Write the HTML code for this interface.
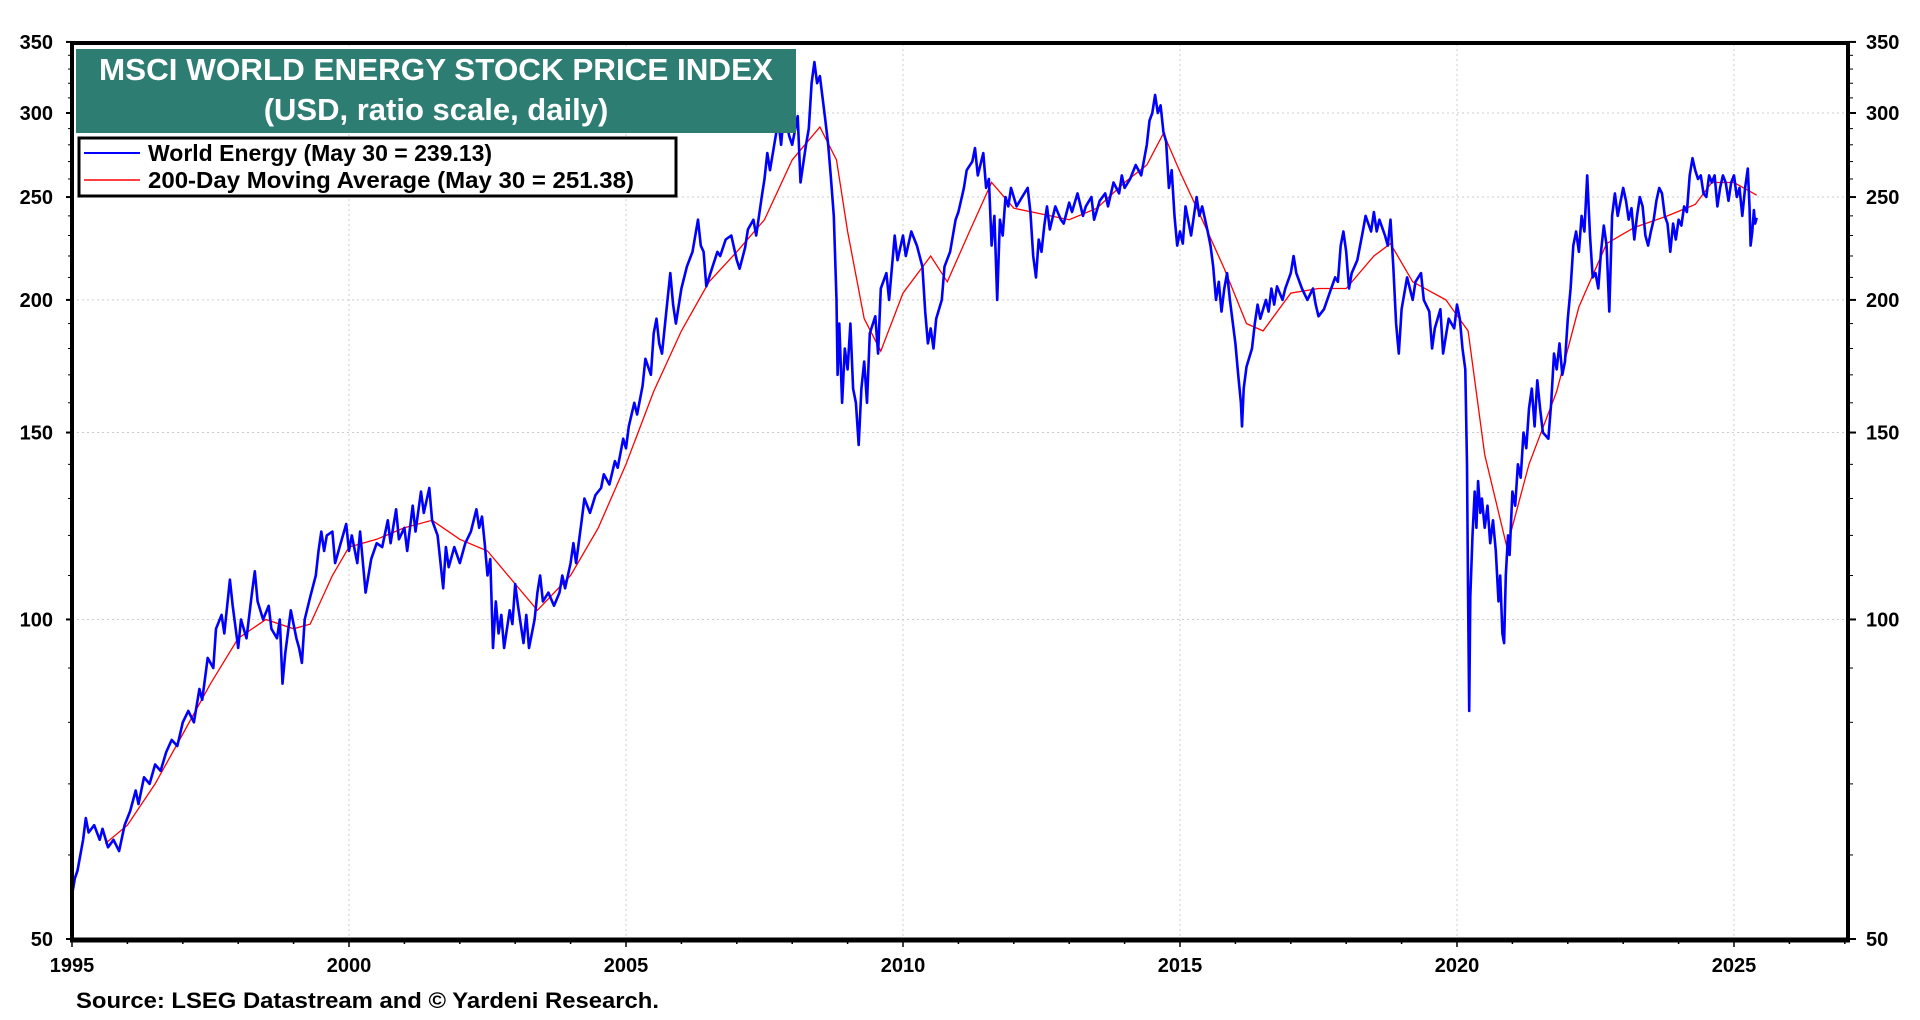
<!DOCTYPE html>
<html><head><meta charset="utf-8"><style>
html,body{margin:0;padding:0;background:#fff;}
svg{display:block;font-family:"Liberation Sans",Arial,sans-serif;}
</style></head><body>
<svg id="chart" width="1920" height="1020" viewBox="0 0 1920 1020">
<g id="grid"></g>
<g id="series"></g>
<g id="axes"></g>
<rect x="76" y="49" width="720" height="84" fill="#2e7d72"/>
<text x="436" y="80" text-anchor="middle" fill="#fff" font-size="31" font-weight="bold" textLength="674" lengthAdjust="spacingAndGlyphs">MSCI WORLD ENERGY STOCK PRICE INDEX</text>
<text x="436" y="120" text-anchor="middle" fill="#fff" font-size="31" font-weight="bold">(USD, ratio scale, daily)</text>
<g>
<rect x="79" y="138" width="597" height="58" fill="#fff" stroke="#000" stroke-width="3"/>
<line x1="84" y1="153" x2="140" y2="153" stroke="#0000ff" stroke-width="2"/>
<text x="148" y="161" font-size="23" font-weight="bold">World Energy (May 30 = 239.13)</text>
<line x1="84" y1="180" x2="140" y2="180" stroke="#ff0000" stroke-width="1.5"/>
<text x="148" y="188" font-size="23" font-weight="bold" textLength="486" lengthAdjust="spacingAndGlyphs">200-Day Moving Average (May 30 = 251.38)</text>
</g>
<text x="76" y="1008" font-size="22" font-weight="bold" textLength="583" lengthAdjust="spacingAndGlyphs">Source: LSEG Datastream and © Yardeni Research.</text>
</svg>
<script>
const yTicks=[50,100,150,200,250,300,350];
const xTicks=[1995,2000,2005,2010,2015,2020,2025];
const energyDates=[1995.0,1995.05,1995.1,1995.2,1995.25,1995.3,1995.4,1995.5,1995.55,1995.65,1995.75,1995.85,1995.95,1996.05,1996.15,1996.2,1996.3,1996.4,1996.5,1996.6,1996.7,1996.8,1996.9,1997.0,1997.1,1997.2,1997.3,1997.35,1997.45,1997.55,1997.6,1997.7,1997.75,1997.85,1997.9,1998.0,1998.05,1998.15,1998.25,1998.3,1998.35,1998.45,1998.55,1998.6,1998.7,1998.75,1998.8,1998.85,1998.95,1999.05,1999.1,1999.15,1999.2,1999.3,1999.4,1999.45,1999.5,1999.55,1999.6,1999.7,1999.75,1999.85,1999.95,2000.0,2000.05,2000.15,2000.2,2000.3,2000.4,2000.5,2000.6,2000.7,2000.75,2000.85,2000.9,2001.0,2001.05,2001.15,2001.2,2001.3,2001.35,2001.45,2001.5,2001.6,2001.7,2001.75,2001.8,2001.9,2002.0,2002.1,2002.2,2002.3,2002.35,2002.4,2002.45,2002.5,2002.55,2002.6,2002.65,2002.7,2002.75,2002.8,2002.9,2002.95,2003.0,2003.05,2003.15,2003.2,2003.25,2003.35,2003.4,2003.45,2003.5,2003.6,2003.7,2003.8,2003.85,2003.9,2004.0,2004.05,2004.1,2004.2,2004.25,2004.35,2004.45,2004.55,2004.6,2004.7,2004.8,2004.85,2004.95,2005.0,2005.05,2005.15,2005.2,2005.3,2005.35,2005.45,2005.5,2005.55,2005.6,2005.65,2005.75,2005.8,2005.85,2005.9,2006.0,2006.1,2006.2,2006.3,2006.35,2006.4,2006.45,2006.55,2006.65,2006.7,2006.8,2006.9,2007.0,2007.05,2007.15,2007.2,2007.3,2007.35,2007.45,2007.5,2007.55,2007.6,2007.7,2007.75,2007.8,2007.85,2007.95,2008.0,2008.1,2008.15,2008.25,2008.3,2008.35,2008.4,2008.45,2008.5,2008.6,2008.65,2008.7,2008.75,2008.8,2008.82,2008.85,2008.9,2008.95,2009.0,2009.05,2009.1,2009.15,2009.2,2009.25,2009.3,2009.35,2009.4,2009.5,2009.55,2009.6,2009.7,2009.75,2009.85,2009.9,2010.0,2010.05,2010.15,2010.25,2010.35,2010.4,2010.45,2010.5,2010.55,2010.6,2010.7,2010.75,2010.85,2010.95,2011.0,2011.1,2011.15,2011.25,2011.3,2011.35,2011.45,2011.5,2011.55,2011.6,2011.65,2011.7,2011.75,2011.8,2011.85,2011.9,2011.95,2012.05,2012.15,2012.25,2012.3,2012.35,2012.4,2012.45,2012.5,2012.55,2012.6,2012.65,2012.75,2012.85,2012.9,2013.0,2013.05,2013.15,2013.25,2013.3,2013.4,2013.45,2013.55,2013.65,2013.7,2013.8,2013.9,2013.95,2014.0,2014.1,2014.2,2014.3,2014.4,2014.45,2014.5,2014.55,2014.6,2014.65,2014.7,2014.75,2014.8,2014.85,2014.9,2014.95,2015.0,2015.05,2015.1,2015.2,2015.3,2015.35,2015.4,2015.5,2015.55,2015.6,2015.65,2015.7,2015.75,2015.8,2015.85,2015.9,2016.0,2016.05,2016.1,2016.12,2016.15,2016.2,2016.3,2016.35,2016.4,2016.45,2016.55,2016.6,2016.65,2016.7,2016.75,2016.85,2016.9,2017.0,2017.05,2017.1,2017.2,2017.3,2017.4,2017.45,2017.5,2017.6,2017.7,2017.8,2017.85,2017.9,2017.95,2018.0,2018.05,2018.1,2018.2,2018.3,2018.35,2018.45,2018.5,2018.55,2018.6,2018.7,2018.75,2018.8,2018.85,2018.9,2018.95,2019.0,2019.1,2019.2,2019.25,2019.35,2019.4,2019.5,2019.55,2019.6,2019.7,2019.75,2019.8,2019.85,2019.95,2020.0,2020.05,2020.1,2020.15,2020.18,2020.2,2020.22,2020.24,2020.28,2020.32,2020.35,2020.38,2020.42,2020.45,2020.5,2020.55,2020.6,2020.65,2020.7,2020.75,2020.78,2020.82,2020.85,2020.88,2020.92,2020.95,2021.0,2021.05,2021.1,2021.15,2021.2,2021.25,2021.3,2021.35,2021.4,2021.45,2021.5,2021.55,2021.65,2021.7,2021.75,2021.8,2021.85,2021.9,2021.95,2022.0,2022.05,2022.1,2022.15,2022.2,2022.25,2022.3,2022.35,2022.4,2022.45,2022.5,2022.55,2022.6,2022.65,2022.7,2022.75,2022.8,2022.85,2022.9,2023.0,2023.05,2023.1,2023.15,2023.2,2023.25,2023.3,2023.35,2023.4,2023.45,2023.5,2023.55,2023.6,2023.65,2023.7,2023.75,2023.8,2023.85,2023.9,2023.95,2024.0,2024.05,2024.1,2024.15,2024.2,2024.25,2024.3,2024.35,2024.4,2024.45,2024.5,2024.55,2024.6,2024.65,2024.7,2024.75,2024.8,2024.85,2024.9,2024.95,2025.0,2025.05,2025.1,2025.15,2025.2,2025.25,2025.28,2025.3,2025.33,2025.36,2025.38,2025.41];
const energyValues=[55,57,58,62,65,63,64,62,63.5,61,62,60.5,64,66,69,67,71,70,73,72,75,77,76,80,82,80,86,84,92,90,98,101,97,109,103,94,100,96,106,111,104,100,103,98,96,100,87,93,102,96,94,91,100,105,110,116,121,116,120,121,113,118,123,116,120,113,121,106,114,118,117,124,118,127,119,122,116,128,121,132,126,133,124,120,107,117,112,117,113,118,121,127,122,125,118,110,114,94,104,97,101,94,102,99,108,103,95,101,94,100,106,110,104,106,103,106,110,107,113,118,113,124,130,126,131,133,137,134,141,139,148,145,152,160,156,166,176,170,186,192,182,178,200,212,198,190,205,215,222,238,225,222,206,214,222,220,228,230,218,214,224,233,238,230,250,260,275,265,285,295,280,300,285,280,298,258,280,290,320,335,320,325,295,280,260,240,200,170,190,160,180,172,190,165,160,146,165,175,160,186,193,178,205,212,200,230,218,230,220,232,225,215,195,182,188,180,192,200,215,222,238,242,255,265,270,278,262,275,255,260,225,240,200,238,230,250,245,255,245,250,255,242,220,210,228,222,235,245,233,245,238,236,247,242,252,240,245,250,238,248,252,245,258,252,262,255,260,268,262,280,295,300,312,300,305,288,282,255,265,240,225,232,226,245,230,250,240,245,232,225,215,200,208,195,205,212,200,182,170,160,152,165,173,180,190,198,192,200,195,205,198,206,200,205,212,220,212,205,200,205,198,193,196,203,210,208,225,232,222,205,212,218,232,240,232,242,232,238,230,225,238,215,190,178,196,210,200,208,212,200,195,180,188,196,178,185,192,188,198,192,180,172,140,105,82,105,120,132,122,135,126,130,122,128,118,124,116,104,110,97,95,110,120,115,132,128,140,136,150,145,158,165,152,168,158,150,148,160,178,172,182,170,175,192,205,225,232,222,240,232,262,230,210,212,205,222,235,225,195,240,252,240,255,248,238,244,228,240,250,245,230,225,232,238,248,255,252,240,236,222,236,228,238,235,245,242,262,272,265,260,262,252,250,262,258,262,245,255,262,258,248,258,262,250,255,240,255,266,245,225,232,243,236,239];
const maDates=[1995.6,1996.0,1996.5,1997.0,1997.5,1998.0,1998.5,1999.0,1999.3,1999.7,2000.0,2000.5,2001.0,2001.5,2002.0,2002.5,2003.0,2003.4,2004.0,2004.5,2005.0,2005.5,2006.0,2006.5,2007.0,2007.5,2008.0,2008.5,2008.8,2009.0,2009.3,2009.6,2010.0,2010.5,2010.8,2011.2,2011.6,2012.0,2012.5,2013.0,2013.5,2014.0,2014.4,2014.7,2015.0,2015.4,2015.8,2016.2,2016.5,2017.0,2017.5,2018.0,2018.5,2018.8,2019.2,2019.8,2020.2,2020.5,2020.9,2021.3,2021.8,2022.2,2022.7,2023.2,2023.8,2024.3,2024.6,2025.0,2025.41];
const maValues=[61.5,64,70,78,87,96,100,98,99,110,117,119,122,124,119,116,108,102,110,122,140,164,187,208,222,238,271,291,271,232,192,179,203,220,208,232,258,244,241,238,244,258,268,287,264,238,214,190,187,203,205,205,220,226,208,200,187,143,117,140,164,197,226,234,240,246,258,258,251];

const NS='http://www.w3.org/2000/svg';
const X0=72,X1=1848,YB=939;
function xs(t){return X0+(t-1995)*55.4;}
function ys(v){return YB-461*Math.log(v/50);}
function mk(tag,attrs,parent){const e=document.createElementNS(NS,tag);for(const k in attrs)e.setAttribute(k,attrs[k]);parent.appendChild(e);return e;}
const grid=document.getElementById('grid'),axes=document.getElementById('axes'),series=document.getElementById('series');

yTicks.forEach(v=>{
  if(v>50&&v<350){const l=mk('line',{x1:X0,x2:X1,y1:ys(v),y2:ys(v),stroke:'#ccc','stroke-dasharray':'2,3'},grid);
  
  }
  const a=mk('text',{x:53,y:ys(v)+7,'text-anchor':'end','font-size':20,'font-weight':'bold'},axes);a.textContent=v;
  
  
  const b=mk('text',{x:1866,y:ys(v)+7,'font-size':20,'font-weight':'bold'},axes);b.textContent=v;
  
  
  mk('line',{x1:X0-6,x2:X0,y1:ys(v),y2:ys(v),stroke:'#000','stroke-width':2},axes);
  mk('line',{x1:X1,x2:X1+8,y1:ys(v),y2:ys(v),stroke:'#000','stroke-width':2},axes);
});
for(let v=60;v<350;v+=10){ if(v%50===0)continue;
  mk('line',{x1:X0-4,x2:X0,y1:ys(v),y2:ys(v),stroke:'#000','stroke-width':1},axes);
  mk('line',{x1:X1,x2:X1+5,y1:ys(v),y2:ys(v),stroke:'#000','stroke-width':1},axes);
}
xTicks.forEach(t=>{
  if(t>1995){const l=mk('line',{x1:xs(t),x2:xs(t),y1:44,y2:YB,stroke:'#ccc','stroke-dasharray':'2,3'},grid);
  
  }
  const a=mk('text',{x:xs(t),y:972,'text-anchor':'middle','font-size':20,'font-weight':'bold'},axes);a.textContent=t;
  
  
});
for(let t=1995;t<=2027;t++){mk('line',{x1:xs(t),x2:xs(t),y1:YB,y2:YB+(t%5===0?8:5),stroke:'#000','stroke-width':1.5},axes);}

function pts(d,v){return d.map((t,i)=>xs(t).toFixed(1)+','+ys(v[i]).toFixed(1)).join(' ');}
const ma=mk('polyline',{points:pts(maDates,maValues),fill:'none',stroke:'#ff0000','stroke-width':1.3},series);


const en=mk('polyline',{points:pts(energyDates,energyValues),fill:'none',stroke:'#0000ff','stroke-width':2.6,'stroke-linejoin':'round'},series);



const fr=mk('path',{d:`M${X0},${YB} V43 H${X1} V${YB}`,fill:'none',stroke:'#000','stroke-width':4},axes);


const bx=mk('line',{x1:X0-2,x2:X1+2,y1:YB+1,y2:YB+1,stroke:'#000','stroke-width':5},axes);


</script>
</body></html>
